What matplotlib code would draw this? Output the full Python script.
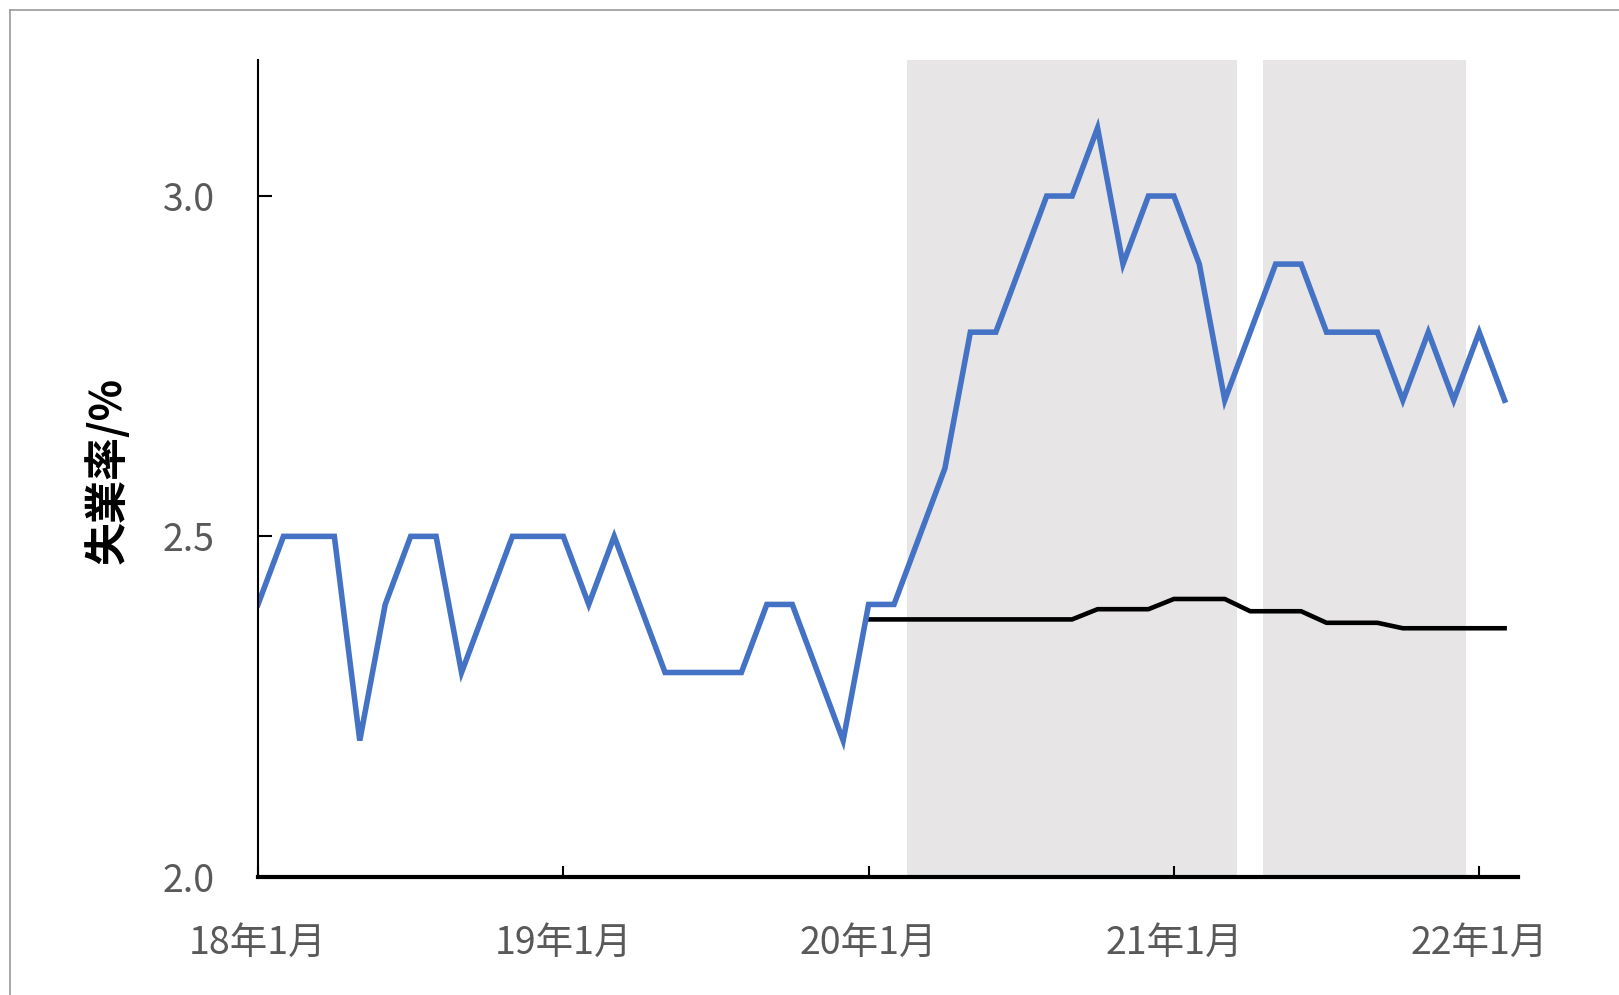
import matplotlib
matplotlib.use("Agg")
import matplotlib.pyplot as plt
from matplotlib.lines import Line2D
import numpy as np

plt.rcParams['font.family'] = ['Noto Sans CJK JP', 'DejaVu Sans']

# ---- data ----
# monthly unemployment rate, 2018-01 .. 2022-02 (month index 0..49)
unemployment = [2.4, 2.5, 2.5, 2.5, 2.2, 2.4, 2.5, 2.5, 2.3, 2.4, 2.5, 2.5,
                2.5, 2.4, 2.5, 2.4, 2.3, 2.3, 2.3, 2.3, 2.4, 2.4, 2.3, 2.2,
                2.4, 2.4, 2.5, 2.6, 2.8, 2.8, 2.9, 3.0, 3.0, 3.1, 2.9, 3.0,
                3.0, 2.9, 2.7, 2.8, 2.9, 2.9, 2.8, 2.8, 2.8, 2.7, 2.8, 2.7,
                2.8, 2.7]
# reference (black) series from 2020-01 (month index 24..49)
ref_start = 24
reference = [2.378] * 9 + [2.393] * 3 + [2.408] * 3 + [2.390] * 3 + \
            [2.373] * 3 + [2.365] * 5
# shaded periods (first and last month index, inclusive)
shaded_periods = [(26, 38), (40, 47)]
tick_months = [0, 12, 24, 36, 48]
tick_labels = ['18年1月', '19年1月', '20年1月', '21年1月', '22年1月']
y_ticks = [2.0, 2.5, 3.0]
y_label = '失業率/%'

W, H = 1619, 995
fig = plt.figure(figsize=(W / 100 + 0.001, H / 100 + 0.001), dpi=100)
ax = fig.add_axes([258 / W, 1 - 876.7 / H, (1518 - 258) / W, (876.7 - 60) / H])

for s, e in shaded_periods:
    ax.axvspan(s - 0.5, e + 0.5, color='#E7E5E6', lw=0, zorder=0)

x = np.arange(len(unemployment))
ax.plot(x, unemployment, color='#4472C4', lw=4.0, solid_joinstyle='miter', zorder=3)
xr = np.arange(ref_start, ref_start + len(reference))
ax.plot(xr, reference, color='black', lw=3.3, zorder=2)

ax.set_xlim(0, 49.53)
ax.set_ylim(2.0, 3.2)

for sp in ['top', 'right']:
    ax.spines[sp].set_visible(False)
ax.spines['left'].set_linewidth(1.5)
ax.spines['bottom'].set_linewidth(3.0)
ax.spines['left'].set_zorder(4)
ax.spines['bottom'].set_zorder(4)

ax.set_xticks(tick_months)
ax.set_xticklabels(tick_labels)
ax.set_yticks(y_ticks)
ax.set_yticklabels([f'{v:.1f}' for v in y_ticks])
ax.tick_params(axis='x', direction='in', length=8, width=1.5, pad=34,
               labelsize=27, labelcolor='#595959')
ax.tick_params(axis='y', direction='in', length=10, width=1.5, pad=31,
               labelsize=27, labelcolor='#595959')

fig.text(107 / W, 1 - 470 / H, y_label, rotation=90, ha='center', va='center',
         fontsize=31, fontweight='bold', color='black')

# outer frame (partially visible)
fig.add_artist(Line2D([9.5 / W, 1.0], [1 - 10 / H, 1 - 10 / H],
                      transform=fig.transFigure, color='#999999', lw=1.2))
fig.add_artist(Line2D([9.5 / W, 9.5 / W], [0.0, 1 - 10 / H],
                      transform=fig.transFigure, color='#999999', lw=1.2))

fig.savefig('out.png', dpi=100)
